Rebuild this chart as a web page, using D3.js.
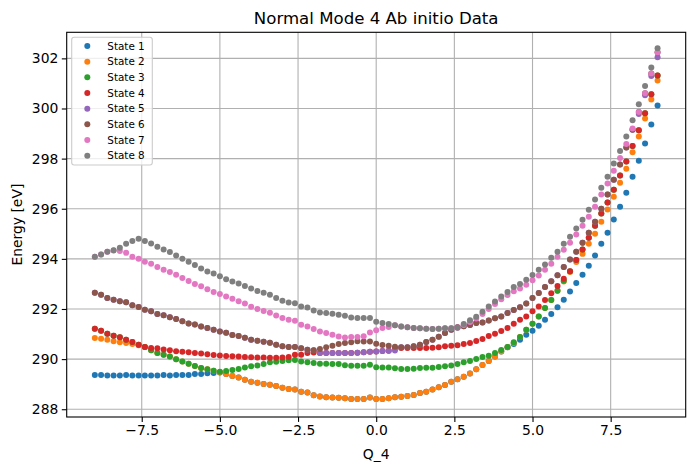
<!DOCTYPE html>
<html>
<head>
<meta charset="utf-8">
<script src="https://cdn.jsdelivr.net/npm/d3@7"></script>
<style>
  body { margin: 0; background: #fff; }
  svg { font-family: "DejaVu Sans", sans-serif; }
</style>
</head>
<body>
<svg id="chart"></svg>
<script>
// Q_4 grid points
const qValues = [
  -9.0, -8.8, -8.6, -8.4, -8.2, -8.0, -7.8, -7.6, -7.4, -7.2,
  -7.0, -6.8, -6.6, -6.4, -6.2, -6.0, -5.8, -5.6, -5.4, -5.2,
  -5.0, -4.8, -4.6, -4.4, -4.2, -4.0, -3.8, -3.6, -3.4, -3.2,
  -3.0, -2.8, -2.6, -2.4, -2.2, -2.0, -1.8, -1.6, -1.4, -1.2,
  -1.0, -0.8, -0.6, -0.4, -0.2, 0.0, 0.2, 0.4, 0.6, 0.8,
  1.0, 1.2, 1.4, 1.6, 1.8, 2.0, 2.2, 2.4, 2.6, 2.8,
  3.0, 3.2, 3.4, 3.6, 3.8, 4.0, 4.2, 4.4, 4.6, 4.8,
  5.0, 5.2, 5.4, 5.6, 5.8, 6.0, 6.2, 6.4, 6.6, 6.8,
  7.0, 7.2, 7.4, 7.6, 7.8, 8.0, 8.2, 8.4, 8.6, 8.8, 9.0
];

// energies [eV] per state, same order as qValues
const state1 = [
  289.37, 289.37, 289.35, 289.35, 289.35, 289.37, 289.35, 289.35, 289.35, 289.35,
  289.35, 289.37, 289.35, 289.37, 289.37, 289.37, 289.41, 289.41, 289.44, 289.45,
  289.47, 289.41, 289.33, 289.27, 289.18, 289.10, 289.06, 289.01, 288.98, 288.93,
  288.86, 288.81, 288.79, 288.70, 288.67, 288.56, 288.51, 288.48, 288.47, 288.46,
  288.44, 288.41, 288.41, 288.41, 288.47, 288.41, 288.41, 288.44, 288.48, 288.50,
  288.53, 288.57, 288.65, 288.70, 288.79, 288.88, 288.97, 289.10, 289.20, 289.30,
  289.43, 289.60, 289.76, 289.92, 290.10, 290.30, 290.47, 290.60, 290.77, 290.97,
  291.13, 291.33, 291.57, 291.80, 292.07, 292.37, 292.70, 293.04, 293.37, 293.73,
  294.13, 294.60, 295.04, 295.57, 296.08, 296.64, 297.28, 297.91, 298.60, 299.36, 300.12
];
const state2 = [
  290.84, 290.81, 290.77, 290.71, 290.67, 290.64, 290.60, 290.55, 290.48, 290.35,
  290.24, 290.17, 290.10, 289.99, 289.90, 289.81, 289.72, 289.65, 289.60, 289.54,
  289.48, 289.41, 289.33, 289.27, 289.18, 289.10, 289.06, 289.01, 288.98, 288.93,
  288.86, 288.81, 288.79, 288.70, 288.67, 288.56, 288.51, 288.48, 288.47, 288.46,
  288.44, 288.41, 288.41, 288.41, 288.47, 288.41, 288.41, 288.44, 288.48, 288.50,
  288.53, 288.57, 288.65, 288.70, 288.79, 288.88, 288.97, 289.10, 289.20, 289.30,
  289.43, 289.60, 289.76, 289.92, 290.10, 290.30, 290.47, 290.64, 290.88, 291.17,
  291.41, 291.70, 292.04, 292.36, 292.73, 293.10, 293.48, 293.87, 294.20, 294.60,
  295.00, 295.48, 295.97, 296.48, 297.04, 297.60, 298.25, 298.88, 299.60, 300.36, 301.12
];
const state3 = [
  291.21, 291.13, 291.01, 290.93, 290.87, 290.77, 290.68, 290.57, 290.48, 290.35,
  290.24, 290.17, 290.10, 289.99, 289.90, 289.81, 289.72, 289.65, 289.60, 289.54,
  289.50, 289.53, 289.57, 289.61, 289.67, 289.71, 289.74, 289.80, 289.87, 289.89,
  289.92, 289.95, 289.96, 289.90, 289.87, 289.84, 289.81, 289.81, 289.80, 289.80,
  289.75, 289.73, 289.73, 289.73, 289.77, 289.68, 289.67, 289.67, 289.64, 289.61,
  289.61, 289.62, 289.65, 289.66, 289.66, 289.69, 289.71, 289.74, 289.80, 289.87,
  289.92, 290.00, 290.08, 290.13, 290.24, 290.36, 290.48, 290.67, 290.88, 291.17,
  291.41, 291.70, 292.04, 292.36, 292.73, 293.13, 293.51, 293.95, 294.37, 294.84,
  295.32, 295.81, 296.25, 296.76, 297.33, 297.88, 298.50, 299.13, 299.81, 300.57, 301.32
];
const state4 = [
  291.21, 291.13, 291.01, 290.93, 290.87, 290.77, 290.68, 290.57, 290.48, 290.44,
  290.43, 290.38, 290.35, 290.31, 290.29, 290.27, 290.24, 290.22, 290.19, 290.16,
  290.14, 290.12, 290.11, 290.10, 290.08, 290.07, 290.06, 290.06, 290.05, 290.05,
  290.06, 290.08, 290.17, 290.17, 290.24, 290.26, 290.24, 290.24, 290.24, 290.24,
  290.24, 290.24, 290.25, 290.27, 290.29, 290.30, 290.32, 290.33, 290.44, 290.44,
  290.44, 290.44, 290.44, 290.44, 290.45, 290.47, 290.51, 290.53, 290.55, 290.60,
  290.64, 290.72, 290.80, 290.92, 291.01, 291.12, 291.24, 291.41, 291.57, 291.70,
  291.91, 292.10, 292.36, 292.63, 292.92, 293.21, 293.51, 293.95, 294.37, 294.84,
  295.32, 295.81, 296.25, 296.76, 297.33, 297.88, 298.50, 299.13, 299.81, 300.57, 301.32
];
const state5 = [
  292.65, 292.57, 292.44, 292.37, 292.31, 292.27, 292.15, 292.08, 291.97, 291.91,
  291.80, 291.75, 291.67, 291.60, 291.51, 291.42, 291.38, 291.30, 291.24, 291.17,
  291.10, 291.05, 290.96, 290.92, 290.85, 290.77, 290.73, 290.69, 290.65, 290.57,
  290.51, 290.48, 290.48, 290.43, 290.37, 290.35, 290.24, 290.24, 290.24, 290.24,
  290.24, 290.24, 290.25, 290.27, 290.29, 290.30, 290.32, 290.33, 290.34, 290.47,
  290.47, 290.51, 290.57, 290.68, 290.77, 290.89, 291.04, 291.17, 291.27, 291.31,
  291.36, 291.44, 291.46, 291.54, 291.63, 291.70, 291.84, 291.96, 292.07, 292.22,
  292.44, 292.64, 292.88, 293.11, 293.35, 293.68, 293.97, 294.28, 294.64, 295.04,
  295.48, 296.00, 296.57, 297.16, 297.77, 298.44, 299.15, 299.78, 300.53, 301.30, 302.04
];
const state6 = [
  292.65, 292.57, 292.44, 292.37, 292.31, 292.27, 292.15, 292.08, 291.97, 291.91,
  291.80, 291.75, 291.67, 291.60, 291.51, 291.42, 291.38, 291.30, 291.24, 291.17,
  291.10, 291.05, 290.96, 290.92, 290.85, 290.77, 290.73, 290.69, 290.65, 290.57,
  290.51, 290.48, 290.48, 290.43, 290.37, 290.35, 290.40, 290.47, 290.53, 290.60,
  290.64, 290.67, 290.71, 290.70, 290.70, 290.61, 290.56, 290.53, 290.49, 290.47,
  290.47, 290.51, 290.57, 290.68, 290.77, 290.89, 291.04, 291.17, 291.27, 291.31,
  291.36, 291.44, 291.46, 291.54, 291.63, 291.70, 291.84, 291.96, 292.07, 292.22,
  292.44, 292.64, 292.88, 293.11, 293.35, 293.68, 293.97, 294.28, 294.64, 295.04,
  295.48, 296.00, 296.57, 297.16, 297.77, 298.44, 299.15, 299.86, 300.61, 301.40, 302.24
];
const state7 = [
  294.08, 294.17, 294.28, 294.33, 294.31, 294.24, 294.08, 294.00, 293.88, 293.80,
  293.68, 293.57, 293.48, 293.37, 293.24, 293.12, 293.00, 292.91, 292.79, 292.68,
  292.60, 292.50, 292.41, 292.31, 292.22, 292.09, 292.00, 291.92, 291.85, 291.74,
  291.64, 291.57, 291.53, 291.37, 291.30, 291.20, 291.10, 291.04, 290.97, 290.90,
  290.86, 290.88, 290.88, 290.91, 291.06, 291.15, 291.24, 291.28, 291.35, 291.30,
  291.27, 291.24, 291.23, 291.21, 291.20, 291.21, 291.23, 291.23, 291.25, 291.36,
  291.48, 291.62, 291.80, 292.00, 292.20, 292.39, 292.56, 292.71, 292.82, 292.97,
  293.15, 293.34, 293.57, 293.80, 294.08, 294.36, 294.64, 294.97, 295.32, 295.68,
  296.08, 296.57, 297.01, 297.52, 298.02, 298.58, 299.20, 299.86, 300.61, 301.40, 302.24
];
const state8 = [
  294.08, 294.17, 294.28, 294.34, 294.44, 294.60, 294.71, 294.80, 294.71, 294.61,
  294.48, 294.37, 294.27, 294.13, 294.00, 293.88, 293.75, 293.62, 293.50, 293.42,
  293.31, 293.19, 293.10, 293.02, 292.92, 292.82, 292.72, 292.65, 292.57, 292.44,
  292.33, 292.26, 292.23, 292.10, 292.06, 291.94, 291.86, 291.84, 291.81, 291.77,
  291.73, 291.66, 291.64, 291.64, 291.64, 291.49, 291.44, 291.40, 291.35, 291.30,
  291.27, 291.24, 291.23, 291.21, 291.20, 291.21, 291.23, 291.23, 291.25, 291.40,
  291.55, 291.69, 291.89, 292.10, 292.30, 292.50, 292.68, 292.88, 293.00, 293.17,
  293.36, 293.57, 293.77, 294.04, 294.28, 294.60, 294.88, 295.21, 295.56, 295.96,
  296.37, 296.84, 297.28, 297.80, 298.30, 298.88, 299.53, 300.17, 300.90, 301.64, 302.40
];

const stateNames = ["State 1", "State 2", "State 3", "State 4", "State 5", "State 6", "State 7", "State 8"];
const stateColors = ["#1f77b4", "#ff7f0e", "#2ca02c", "#d62728", "#9467bd", "#8c564b", "#e377c2", "#7f7f7f"];
const stateValues = [state1, state2, state3, state4, state5, state6, state7, state8];

const xTicks = [-7.5, -5.0, -2.5, 0.0, 2.5, 5.0, 7.5];
const yTicks = [288, 290, 292, 294, 296, 298, 300, 302];

function DrawScatter(targetElem, width, height) {

    const left = 66.7, right = 685.7, top = 32.3, bottom = 417;

    // SVG element
    const svg = d3.select(targetElem)
        .attr("width", width)
        .attr("height", height);

    svg.selectAll("*").remove();

    // Scales
    const x = d3.scaleLinear()
        .domain([-9.9, 9.9])
        .range([left, right]);

    const y = d3.scaleLinear()
        .domain([287.69, 303.04])
        .range([bottom, top]);

    // Grid
    svg.append("g")
        .selectAll("line")
        .data(xTicks)
        .enter()
        .append("line")
        .attr("x1", d => x(d)).attr("x2", d => x(d))
        .attr("y1", top).attr("y2", bottom)
        .attr("stroke", "#b0b0b0")
        .attr("stroke-width", 1.1);

    svg.append("g")
        .selectAll("line")
        .data(yTicks)
        .enter()
        .append("line")
        .attr("x1", left).attr("x2", right)
        .attr("y1", d => y(d)).attr("y2", d => y(d))
        .attr("stroke", "#b0b0b0")
        .attr("stroke-width", 1.1);

    // Points, one layer per state
    stateValues.forEach((vals, k) => {
        svg.append("g")
            .selectAll("circle")
            .data(vals)
            .enter()
            .append("circle")
            .attr("cx", (d, i) => x(qValues[i]))
            .attr("cy", d => y(d))
            .attr("r", 3.0)
            .attr("fill", stateColors[k]);
    });

    // Axes
    const xAxis = d3.axisBottom(x)
        .tickValues(xTicks)
        .tickFormat(d3.format(".1f"))
        .tickSize(4.9)
        .tickPadding(3.5);

    const yAxis = d3.axisLeft(y)
        .tickValues(yTicks)
        .tickFormat(d3.format("d"))
        .tickSize(4.9)
        .tickPadding(3.5);

    const gx = svg.append("g")
        .attr("transform", `translate(0, ${bottom})`)
        .call(xAxis);

    const gy = svg.append("g")
        .attr("transform", `translate(${left}, 0)`)
        .call(yAxis);

    [gx, gy].forEach(g => {
        g.select(".domain").remove();
        g.selectAll("line").attr("stroke", "#000").attr("stroke-width", 1.1);
        g.selectAll("text")
            .attr("fill", "#000")
            .style("font-family", "DejaVu Sans")
            .style("font-size", "13.9px");
    });

    // Frame
    svg.append("rect")
        .attr("x", left).attr("y", top)
        .attr("width", right - left)
        .attr("height", bottom - top)
        .attr("fill", "none")
        .attr("stroke", "#000")
        .attr("stroke-width", 1.1);

    // Labels
    svg.append("text")
        .attr("x", (left + right) / 2)
        .attr("y", 24)
        .attr("text-anchor", "middle")
        .style("font-size", "16.6px")
        .text("Normal Mode 4 Ab initio Data");

    svg.append("text")
        .attr("x", (left + right) / 2)
        .attr("y", 459)
        .attr("text-anchor", "middle")
        .style("font-size", "13.9px")
        .text("Q_4");

    svg.append("text")
        .attr("transform", `translate(21.5, ${(top + bottom) / 2}) rotate(-90)`)
        .attr("text-anchor", "middle")
        .style("font-size", "13.9px")
        .text("Energy [eV]");

    // Legend
    const legend = svg.append("g");

    legend.append("rect")
        .attr("x", 71.7).attr("y", 37.3)
        .attr("width", 80.6).attr("height", 127.7)
        .attr("rx", 2.5)
        .attr("fill", "#fff")
        .attr("fill-opacity", 0.8)
        .attr("stroke", "#cccccc")
        .attr("stroke-width", 1.1);

    const rows = legend.selectAll(".row")
        .data(stateNames)
        .enter()
        .append("g")
        .attr("class", "row")
        .attr("transform", (d, i) => `translate(0, ${46 + i * 15.67})`);

    rows.append("circle")
        .attr("cx", 87.3)
        .attr("cy", 0)
        .attr("r", 3.0)
        .attr("fill", (d, i) => stateColors[i]);

    rows.append("text")
        .attr("x", 107.3)
        .attr("y", 3.7)
        .style("font-size", "10.4px")
        .text(d => d);
}

DrawScatter("#chart", 695, 470);
</script>
</body>
</html>
